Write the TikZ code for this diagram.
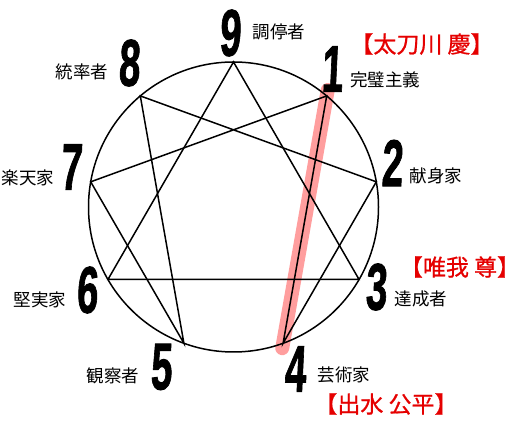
\documentclass[tikz,border=0pt]{standalone}
\usepackage{fontspec}
\newfontfamily\jpfont{Noto Sans CJK JP}
\newfontfamily\jpmedium[FakeBold=0.8]{Noto Sans CJK JP}
\newfontfamily\numfont[UprightFont={* Bold}, FakeBold=1.6]{Liberation Sans}
\usetikzlibrary{positioning, calc}
\colorlet{hilite}{red!38}
\colorlet{memred}{red!90!black}

\begin{document}
\begin{tikzpicture}[x=1pt, y=1pt,
    digit/.style = {font=\numfont\fontsize{66}{66}\selectfont, xscale=0.58, xslant=0.08, inner sep=0},
    role/.style = {font=\jpfont\fontsize{17.5}{17.5}\selectfont, inner sep=0},
    member/.style = {font=\jpmedium\fontsize{23}{23}\selectfont, text=memred, inner sep=0},
    line width=1.5pt]
        \useasboundingbox (0,0) rectangle (530,427);
        \coordinate (c) at (233.5,220);
        % points on the circle
        \foreach \i/\a in {1/50, 2/10, 3/-30, 4/-70, 5/-110, 6/-150, 7/170, 8/130, 9/90}
            \coordinate (p\i) at ($(c)+(\a:145)$);
        \draw[hilite, line width=14pt, line cap=round, shorten <=-6pt, shorten >=-5pt] (p1) -- (p4); % highlight
        \draw (c) circle (145);
        \draw (p9) -- (p3) -- (p6) -- cycle;
        \draw (p1) -- (p4) -- (p2) -- (p8) -- (p5) -- (p7) -- cycle;
        % numbers
        \node[digit] (d9) at (231,394) {9};
        \node[digit] (d8) at (130,364) {8};
        \node[digit] (d1) at (333,358) {1};
        \node[digit] (d7) at (72,260) {7};
        \node[digit] (d2) at (393,264) {2};
        \node[digit] (d6) at (88,137) {6};
        \node[digit] (d3) at (377,140) {3};
        \node[digit] (d5) at (162,60) {5};
        \node[digit] (d4) at (296,58) {4};
        % types
        \node[role] (t9) at (279,395) {調停者};
        \node[role] (t8) at (82,355) {統率者};
        \node[role] (t1) at (385,347) {完璧主義};
        \node[role] (t7) at (28,249) {楽天家};
        \node[role] (t2) at (436,251) {献身家};
        \node[role] (t6) at (40,127) {堅実家};
        \node[role] (t3) at (421,128) {達成者};
        \node[role] (t5) at (113,51) {観察者};
        \node[role] (t4) at (344,52) {芸術家};
        % names
        \node[member] (m1) at (422,383) {【太刀川 慶】};
        \node[member] (m3) at (460,160) {【唯我 尊】};
        \node[member] (m4) at (386,23) {【出水 公平】};
    \end{tikzpicture}
\end{document}
